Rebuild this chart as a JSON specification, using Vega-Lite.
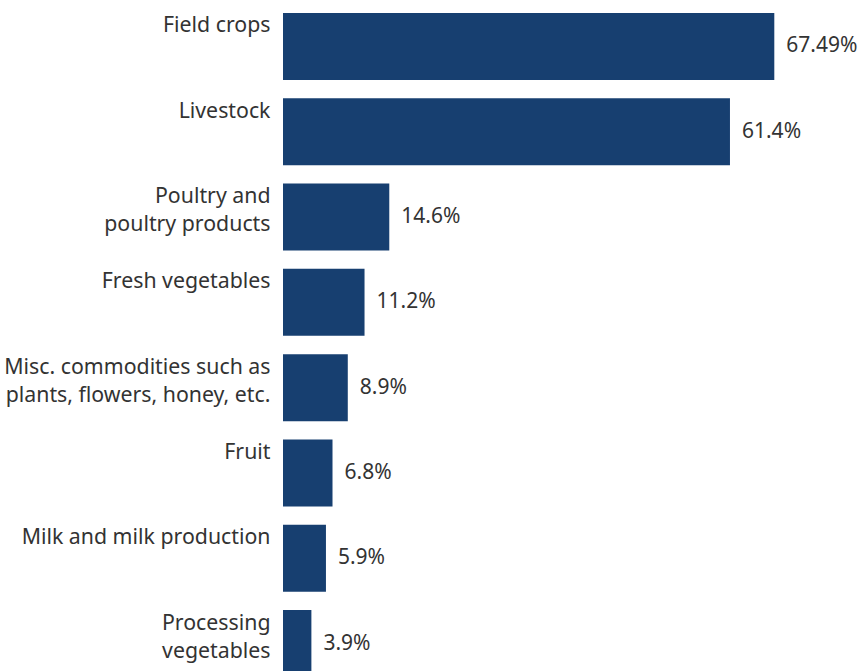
{
  "$schema": "https://vega.github.io/schema/vega-lite/v6.json",
  "width": 578,
  "height": 658,
  "autosize": {"type": "none"},
  "padding": {"left": 283, "top": 13, "right": 0, "bottom": 0},
  "background": "white",
  "config": {"view": {"stroke": null}, "font": "Noto Sans"},
  "data": {
    "values": [
      {"category": "Field crops", "value": 67.49, "label": "67.49%"},
      {"category": "Livestock", "value": 61.4, "label": "61.4%"},
      {"category": "Poultry and|poultry products", "value": 14.6, "label": "14.6%"},
      {"category": "Fresh vegetables", "value": 11.2, "label": "11.2%"},
      {"category": "Misc. commodities such as|plants, flowers, honey, etc.", "value": 8.9, "label": "8.9%"},
      {"category": "Fruit", "value": 6.8, "label": "6.8%"},
      {"category": "Milk and milk production", "value": 5.9, "label": "5.9%"},
      {"category": "Processing|vegetables", "value": 3.9, "label": "3.9%"}
    ]
  },
  "encoding": {
    "y": {
      "field": "category",
      "type": "nominal",
      "sort": null,
      "scale": {"range": [0, 664], "paddingInner": 0.2145, "paddingOuter": 0},
      "axis": {
        "title": null,
        "domain": false,
        "ticks": false,
        "labelPadding": 13,
        "labelFontSize": 21.3,
        "labelColor": "#333333",
        "labelFont": "Noto Sans",
        "labelBaseline": "top",
        "labelAlign": "right",
        "labelOffset": -31,
        "labelLineHeight": 28,
        "labelLimit": 400,
        "labelExpr": "split(datum.label, '|')"
      }
    },
    "x": {
      "field": "value",
      "type": "quantitative",
      "scale": {"domain": [0, 79.4], "nice": false, "zero": true},
      "axis": null
    }
  },
  "layer": [
    {"mark": {"type": "bar", "color": "#173f70", "clip": true}},
    {
      "mark": {"type": "text", "align": "left", "baseline": "middle", "dx": 12, "fontSize": 21, "color": "#333333", "font": "Noto Sans"},
      "encoding": {"text": {"field": "label"}}
    }
  ]
}
